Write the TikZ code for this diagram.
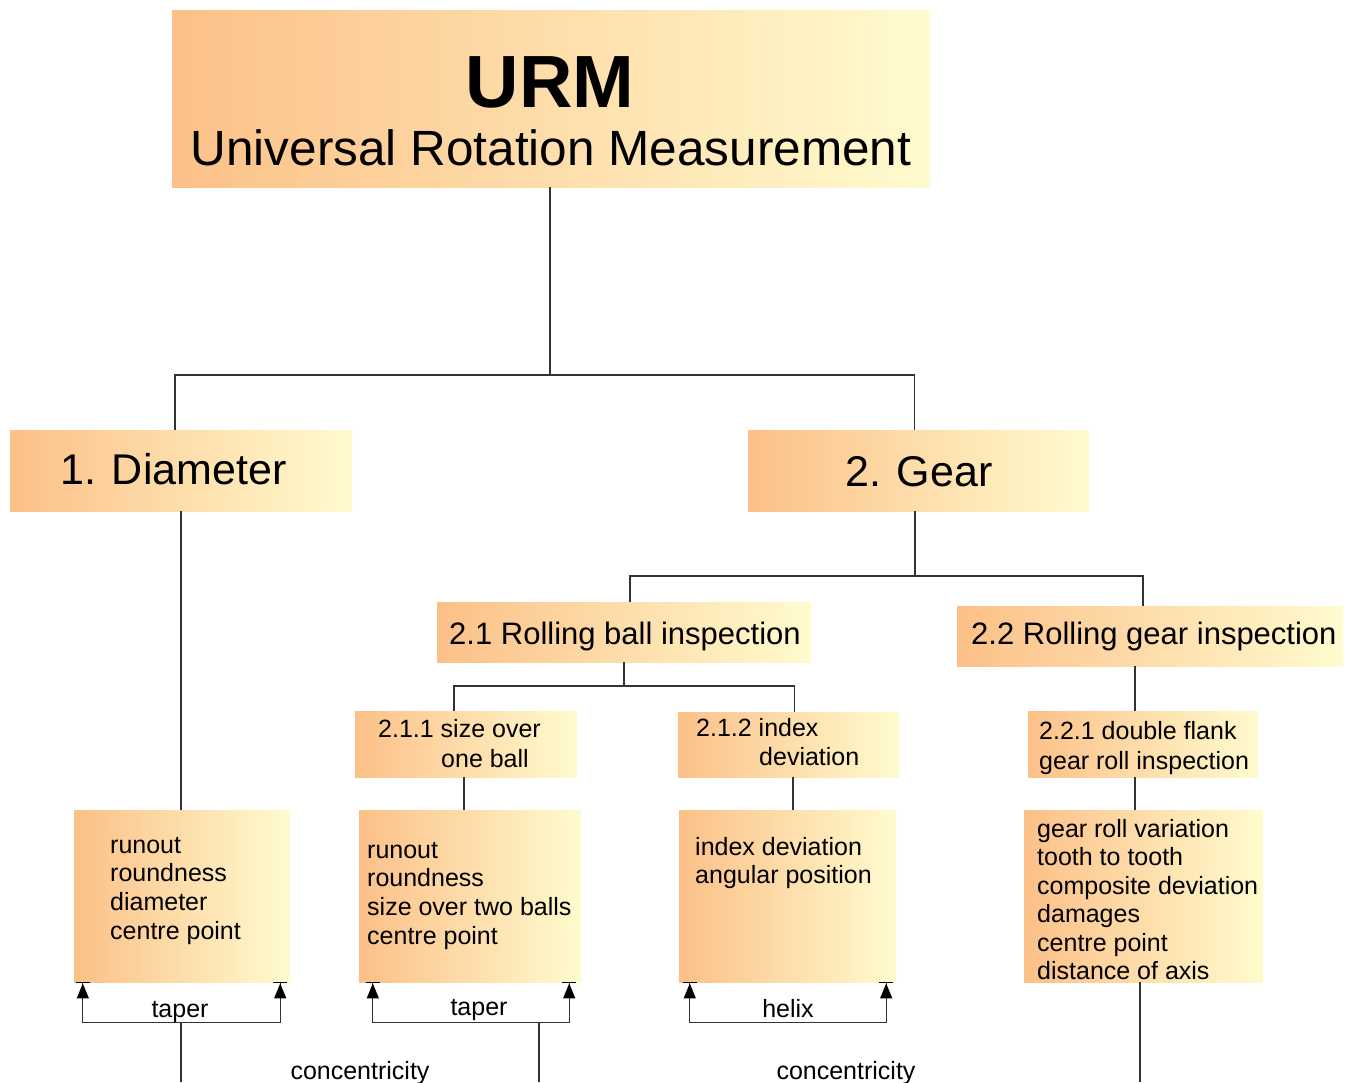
\documentclass[tikz,border=0pt]{standalone}
\usepackage{fontspec}
\setmainfont{Liberation Sans}
\usetikzlibrary{arrows.meta,positioning,calc}
\definecolor{boxleft}{RGB}{252,192,136}
\definecolor{boxright}{RGB}{255,251,206}
\tikzset{
  box/.style={left color=boxleft,right color=boxright,inner sep=0pt},
  txt/.style={anchor=base west,inner sep=0pt,font=\fontsize{25}{30}\selectfont},
  link/.style={draw=black!80,line width=1.2pt},
  brk/.style={link,{Bar[width=14pt,black]Triangle[length=15pt,width=12pt,black]}-{Triangle[length=15pt,width=12pt,black]Bar[width=14pt,black]}}
}

\begin{document}
\begin{tikzpicture}[x=1pt,y=-1pt]
\useasboundingbox (0,0) rectangle (1354,1082);
% boxes
\node[box,minimum width=758,minimum height=177] (urm) at (551,98.5) {};
\node[box,minimum width=342,minimum height=81] (dia) at (181,470.5) {};
\node[box,minimum width=341,minimum height=81] (gear) at (918.5,470.5) {};
\node[box,minimum width=374,minimum height=60] (rb) at (624,632) {};
\node[box,minimum width=386,minimum height=60] (rg) at (1150,636) {};
\node[box,minimum width=222,minimum height=66] (sob) at (466,744) {};
\node[box,minimum width=221,minimum height=65] (idx) at (788.5,744.5) {};
\node[box,minimum width=230,minimum height=66] (dfl) at (1143,744) {};
\node[box,minimum width=216,minimum height=172] (lst1) at (182,896) {};
\node[box,minimum width=222,minimum height=172] (lst2) at (470,896) {};
\node[box,minimum width=217,minimum height=172] (lst3) at (787.5,896) {};
\node[box,minimum width=239,minimum height=172] (lst4) at (1143.5,896) {};
% titles
\node[anchor=base,inner sep=0pt,font=\fontsize{74}{80}\selectfont\bfseries] (urmt) at (550,107) {URM};
\node[anchor=base,inner sep=0pt,font=\fontsize{49.5}{56}\selectfont] (urms) at (551,165) {Universal Rotation Measurement};
\node[anchor=base west,inner sep=0pt,font=\fontsize{43}{50}\selectfont] (diat) at (60,484) {1. Diameter};
\node[anchor=base west,inner sep=0pt,font=\fontsize{43}{50}\selectfont] (geart) at (845,486) {2. Gear};
\node[anchor=base west,inner sep=0pt,font=\fontsize{31}{36}\selectfont] (rbt) at (449,644) {2.1 Rolling ball inspection};
\node[anchor=base west,inner sep=0pt,font=\fontsize{31}{36}\selectfont] (rgt) at (971,644) {2.2 Rolling gear inspection};
\node[txt] (sobt1) at (378,737) {2.1.1 size over};
\node[txt] (sobt2) at (441,767) {one ball};
\node[txt] (idxt1) at (696,736) {2.1.2 index};
\node[txt] (idxt2) at (759,765) {deviation};
\node[txt] (dflt1) at (1039,739) {2.2.1 double flank};
\node[txt] (dflt2) at (1039,769) {gear roll inspection};
% lists
\foreach \t [count=\i] in {runout,roundness,diameter,centre point}
  \node[txt] (lst1t\i) at (110,{853+28.7*(\i-1)}) {\t};
\foreach \t [count=\i] in {runout,roundness,size over two balls,centre point}
  \node[txt] (lst2t\i) at (367,{858+28.7*(\i-1)}) {\t};
\foreach \t [count=\i] in {index deviation,angular position}
  \node[txt] (lst3t\i) at (695,{855+28.7*(\i-1)}) {\t};
\foreach \t [count=\i] in {gear roll variation,tooth to tooth,composite deviation,damages,centre point,distance of axis}
  \node[txt] (lst4t\i) at (1037,{837+28.5*(\i-1)}) {\t};
% tree
\coordinate (j1) at (550,375);
\draw[link] (urm.south -| j1) -- (j1) -| ([xshift=-6]dia.north);
\draw[link] (j1) -| ([xshift=-4]gear.north);
\draw[link] (dia.south) -- (dia.south |- lst1.north);
\coordinate (j2) at (915,576);
\draw[link] (gear.south -| j2) -- (j2) -| ([xshift=6]rb.north);
\draw[link] (j2) -| ([xshift=-7]rg.north);
\coordinate (j3) at (624,686);
\draw[link] (rb.south) -- (j3) -| ([xshift=-12]sob.north);
\draw[link] (j3) -| ([xshift=6]idx.north);
\draw[link] ([xshift=-2]sob.south) -- ([xshift=-2]sob.south |- lst2.north);
\draw[link] ([xshift=4.5]idx.south) -- ([xshift=4.5]idx.south |- lst3.north);
\draw[link] ([xshift=-15]rg.south) -- ([xshift=-15]rg.south |- dfl.north);
\draw[link] ([xshift=-8]dfl.south) -- ([xshift=-8]dfl.south |- lst4.north);
% brackets
\draw[brk] ([xshift=9]lst1.south west) -- ++(0,40) coordinate (b1) -| ([xshift=-10]lst1.south east);
\draw[brk] ([xshift=14]lst2.south west) -- ++(0,40) coordinate (b2) -| ([xshift=-12]lst2.south east);
\draw[brk] ([xshift=11]lst3.south west) -- ++(0,40) coordinate (b3) -| ([xshift=-10]lst3.south east);
\node[anchor=base,inner sep=0pt,font=\fontsize{25}{30}\selectfont] (tp1) at (180,1017) {taper};
\node[anchor=base,inner sep=0pt,font=\fontsize{25}{30}\selectfont] (tp2) at (479,1015) {taper};
\node[anchor=base,inner sep=0pt,font=\fontsize{25}{30}\selectfont] (hx) at (788,1017) {helix};
\coordinate (e1) at (181,1082);
\coordinate (e2) at (539,1082);
\coordinate (e4) at (1140,1082);
\draw[link] (e1 |- b1) -- (e1);
\draw[link] (e2 |- b2) -- (e2);
\draw[link] (lst4.south -| e4) -- (e4);
\node[anchor=base,inner sep=0pt,font=\fontsize{25}{30}\selectfont] (cc1) at (360,1079) {concentricity};
\node[anchor=base,inner sep=0pt,font=\fontsize{25}{30}\selectfont] (cc2) at (846,1079) {concentricity};
\end{tikzpicture}
\end{document}
